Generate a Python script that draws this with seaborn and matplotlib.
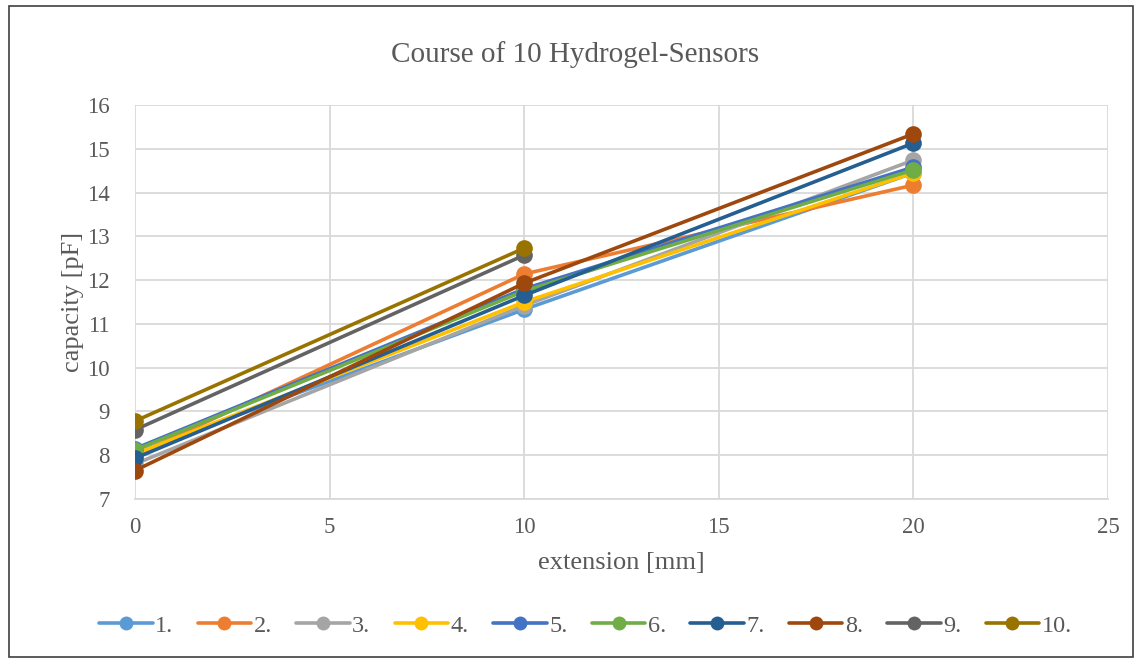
import matplotlib
matplotlib.use("Agg")
import matplotlib.pyplot as plt
import seaborn as sns
import pandas as pd
from matplotlib.patches import Rectangle

sensors = ["1.", "2.", "3.", "4.", "5.", "6.", "7.", "8.", "9.", "10."]
colors = ["#5B9BD5", "#ED7D31", "#A5A5A5", "#FFC000", "#4472C4",
          "#70AD47", "#255E91", "#9E480E", "#636363", "#997300"]
extension = [0, 10, 20]
s1 = [8.05, 11.33, 14.45]
s2 = [8.00, 12.14, 14.17]
s3 = [7.80, 11.42, 14.74]
s4 = [8.03, 11.50, 14.45]
s5 = [8.15, 11.80, 14.58]
s6 = [8.12, 11.75, 14.52]
s7 = [7.93, 11.65, 15.13]
s8 = [7.65, 11.93, 15.34]
s9 = [8.58, 12.57]
s10 = [8.78, 12.73]
series = [s1, s2, s3, s4, s5, s6, s7, s8, s9, s10]

rows = []
for name, vals in zip(sensors, series):
    for x, v in zip(extension, vals):
        rows.append({"extension": x, "capacity": v, "sensor": name})
df = pd.DataFrame(rows)

sns.set_theme(style="white")
plt.rcParams["font.family"] = ["Liberation Serif", "DejaVu Serif"]
txt = "#595959"

fig = plt.figure(figsize=(11.35, 6.61), dpi=100)
ax = fig.add_axes([135/1135, 1 - 499/661, (1108-135)/1135, (499-105)/661])

sns.lineplot(data=df, x="extension", y="capacity", hue="sensor",
             hue_order=sensors, palette=colors, marker="o", markersize=12,
             markeredgewidth=0, linewidth=2.6, ax=ax, legend=True, sort=False)

ax.set_xlim(0, 25)
ax.set_ylim(7, 16)
ax.set_xticks(range(0, 26, 5))
ax.set_yticks(range(7, 17))
ax.grid(True, color="#D9D9D9", linewidth=1.3)
ax.set_axisbelow(True)
for s in ["top", "right", "left"]:
    ax.spines[s].set_visible(False)
ax.spines["bottom"].set_color("#D9D9D9")
ax.spines["bottom"].set_linewidth(1.3)
ax.tick_params(axis="x", labelsize=16.5, colors=txt, length=0, pad=13)
ax.tick_params(axis="y", labelsize=16.5, colors=txt, length=0, pad=18)
ax.set_xlabel("extension [mm]", fontsize=19, color=txt, labelpad=10)
ax.set_ylabel("capacity [pF]", fontsize=19, color=txt, labelpad=2)
fig.text(0.5 + 8/1135, 1 - 55/661, "Course of 10 Hydrogel-Sensors", fontsize=21,
         color=txt, ha="center", va="center")

handles, labels = ax.get_legend_handles_labels()
ax.legend(handles, labels, loc="center", bbox_to_anchor=(0.5 - 36/973, -0.322),
          ncol=10, frameon=False, fontsize=17.5, handlelength=2.2,
          handletextpad=0.1, columnspacing=1.0, labelcolor=txt)
for h in ax.get_legend().legend_handles:
    h.set_markersize(10)

fig.patches.append(Rectangle((0.008, 0.006), 0.99, 0.985, transform=fig.transFigure,
                             fill=False, edgecolor="#404040", linewidth=1.2))
fig.savefig("out.png", dpi=100, facecolor="white")
